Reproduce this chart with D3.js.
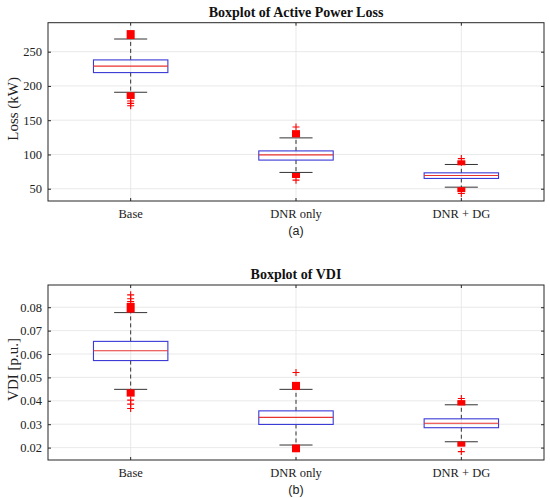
<!DOCTYPE html>
<html>
<head>
<meta charset="utf-8">
<script src="https://cdn.jsdelivr.net/npm/d3@7"></script>
<style>
  body { margin: 0; background: #fff; }
  svg { display: block; }
</style>
</head>
<body>
<svg id="chart"></svg>
<script>
// Categories shared by both panels
const categories = ["Base", "DNR only", "DNR + DG"];

// (a) Active power loss, kW
const lossQ1 = [219.5, 91.8, 65.0];
const lossMedian = [229.0, 99.4, 69.4];
const lossQ3 = [238.0, 105.2, 73.2];
const lossWhiskerLo = [190.8, 73.8, 52.3];
const lossWhiskerHi = [268.5, 124.2, 85.4];
// dense clusters of outliers (drawn as solid blobs), [low, high]
const lossClusterHi = [[268.5, 281.5], [125.0, 135.5], [86.0, 91.5]];
const lossClusterLo = [[181.0, 190.8], [66.0, 73.0], [45.5, 52.3]];
// isolated outliers
const lossOutliers = [[178, 174.5, 171], [140, 62.5], [94, 43]];
const lossLimits = [32.1, 292.3];
const lossTicks = [50, 100, 150, 200, 250];

// (b) Voltage deviation index, p.u.
const vdiQ1 = [0.0572, 0.0299, 0.0285];
const vdiMedian = [0.0614, 0.0329, 0.0304];
const vdiQ3 = [0.0654, 0.0357, 0.0323];
const vdiWhiskerLo = [0.0449, 0.0211, 0.0225];
const vdiWhiskerHi = [0.0777, 0.0449, 0.0383];
const vdiClusterHi = [[0.0777, 0.0818], [0.0446, 0.0481], [0.0380, 0.0403]];
const vdiClusterLo = [[0.0418, 0.0449], [0.0180, 0.0213], [0.0204, 0.0226]];
const vdiOutliers = [[0.0853, 0.0836, 0.0824, 0.0403, 0.0386, 0.0367], [0.0521], [0.0410, 0.0183]];
const vdiLimits = [0.0147, 0.0895];
const vdiTicks = [0.02, 0.03, 0.04, 0.05, 0.06, 0.07, 0.08];

const width = 550, height = 498;
const svg = d3.select("#chart").attr("width", width).attr("height", height);

const serif = "'Liberation Serif', 'Times New Roman', serif";
const sans = "'Liberation Sans', Arial, sans-serif";

function drawPanel(p) {
    const x = d3.scaleBand().domain(categories).range([48, 544]).padding(0);
    const y = d3.scaleLinear().domain(p.limits).range([p.bottom, p.top]);
    const bw = x.bandwidth();
    const cx = c => x(c) + bw / 2;

    const g = svg.append("g");

    // grid lines
    g.selectAll(".hgrid").data(p.ticks).join("line")
        .attr("x1", 48).attr("x2", 544)
        .attr("y1", d => y(d)).attr("y2", d => y(d))
        .attr("stroke", "#e3e3e3").attr("stroke-width", 0.8);
    g.selectAll(".vgrid").data(categories).join("line")
        .attr("x1", cx).attr("x2", cx)
        .attr("y1", p.top).attr("y2", p.bottom)
        .attr("stroke", "#e3e3e3").attr("stroke-width", 0.8);

    const rows = categories.map((c, i) => ({
        c, q1: p.q1[i], med: p.med[i], q3: p.q3[i],
        lo: p.wlo[i], hi: p.whi[i],
        cHi: p.cHi[i], cLo: p.cLo[i], out: p.out[i]
    }));

    // whiskers (dashed)
    g.selectAll(".wup").data(rows).join("line")
        .attr("x1", d => cx(d.c)).attr("x2", d => cx(d.c))
        .attr("y1", d => y(d.q3)).attr("y2", d => y(d.hi))
        .attr("stroke", "#333").attr("stroke-width", 1)
        .attr("stroke-dasharray", "4,3");
    g.selectAll(".wlo").data(rows).join("line")
        .attr("x1", d => cx(d.c)).attr("x2", d => cx(d.c))
        .attr("y1", d => y(d.q1)).attr("y2", d => y(d.lo))
        .attr("stroke", "#333").attr("stroke-width", 1)
        .attr("stroke-dasharray", "4,3");

    // whisker caps
    const capW = bw * 0.2;
    ["hi", "lo"].forEach(k => {
        g.selectAll(".cap-" + k).data(rows).join("line")
            .attr("x1", d => cx(d.c) - capW / 2).attr("x2", d => cx(d.c) + capW / 2)
            .attr("y1", d => y(d[k])).attr("y2", d => y(d[k]))
            .attr("stroke", "#333").attr("stroke-width", 1);
    });

    // boxes
    const boxW = bw * 0.45;
    g.selectAll(".box").data(rows).join("rect")
        .attr("x", d => cx(d.c) - boxW / 2)
        .attr("width", boxW)
        .attr("y", d => y(d.q3))
        .attr("height", d => y(d.q1) - y(d.q3))
        .attr("fill", "none").attr("stroke", "#3a3ad6").attr("stroke-width", 1.1);

    // medians
    g.selectAll(".med").data(rows).join("line")
        .attr("x1", d => cx(d.c) - boxW / 2).attr("x2", d => cx(d.c) + boxW / 2)
        .attr("y1", d => y(d.med)).attr("y2", d => y(d.med))
        .attr("stroke", "#e8322e").attr("stroke-width", 1.1);

    // dense outlier clusters
    const blobW = 8;
    ["cHi", "cLo"].forEach(k => {
        g.selectAll(".blob-" + k).data(rows).join("rect")
            .attr("x", d => cx(d.c) - blobW / 2)
            .attr("width", blobW)
            .attr("y", d => y(d[k][1]))
            .attr("height", d => Math.max(5, y(d[k][0]) - y(d[k][1])))
            .attr("fill", "#f00");
    });

    // isolated outliers ('+')
    const pts = rows.flatMap(d => d.out.map(v => ({ c: d.c, v })));
    const ms = 3.5;
    g.selectAll(".plus").data(pts).join("path")
        .attr("d", d => {
            const px = cx(d.c), py = y(d.v);
            return `M${px - ms},${py}H${px + ms}M${px},${py - ms}V${py + ms}`;
        })
        .attr("stroke", "#f00").attr("stroke-width", 1.1).attr("fill", "none");

    // axes (box on, ticks inside)
    const axisColor = "#262626";
    g.append("g").attr("transform", `translate(48,0)`)
        .call(d3.axisLeft(y).tickValues(p.ticks).tickSizeInner(-3).tickSizeOuter(0).tickPadding(6).tickFormat(p.fmt))
        .call(a => a.select(".domain").remove())
        .call(a => a.selectAll("line").attr("stroke", axisColor))
        .call(a => a.selectAll("text").attr("font-family", serif).attr("font-size", 12.5).attr("fill", "#222"));
    g.append("g").attr("transform", `translate(544,0)`)
        .call(d3.axisRight(y).tickValues(p.ticks).tickSizeInner(-3).tickSizeOuter(0).tickFormat(""))
        .call(a => a.select(".domain").remove())
        .call(a => a.selectAll("line").attr("stroke", axisColor));
    g.append("g").attr("transform", `translate(0,${p.bottom})`)
        .call(d3.axisBottom(x).tickSizeInner(-3).tickSizeOuter(0).tickPadding(8))
        .call(a => a.select(".domain").remove())
        .call(a => a.selectAll("line").attr("stroke", axisColor))
        .call(a => a.selectAll("text").attr("font-family", serif).attr("font-size", 12.5).attr("fill", "#222"));
    g.append("g").attr("transform", `translate(0,${p.top})`)
        .call(d3.axisTop(x).tickSizeInner(-3).tickSizeOuter(0).tickFormat(""))
        .call(a => a.select(".domain").remove())
        .call(a => a.selectAll("line").attr("stroke", axisColor));

    g.append("rect")
        .attr("x", 48).attr("y", p.top)
        .attr("width", 544 - 48).attr("height", p.bottom - p.top)
        .attr("fill", "none").attr("stroke", axisColor).attr("stroke-width", 1);

    // title
    g.append("text")
        .attr("x", 296).attr("y", p.top - 6)
        .attr("text-anchor", "middle")
        .attr("font-family", serif).attr("font-weight", "bold").attr("font-size", 14)
        .attr("fill", "#111")
        .text(p.title);

    // y label
    g.append("text")
        .attr("transform", `translate(18,${(p.top + p.bottom) / 2 - 3}) rotate(-90)`)
        .attr("text-anchor", "middle")
        .attr("font-family", serif).attr("font-size", 15)
        .attr("fill", "#222")
        .text(p.ylabel);

    // sub-caption
    g.append("text")
        .attr("x", 296).attr("y", p.bottom + 34)
        .attr("text-anchor", "middle")
        .attr("font-family", sans).attr("font-size", 12.5)
        .attr("fill", "#222")
        .text(p.caption);
}

drawPanel({
    top: 22.7, bottom: 201,
    limits: lossLimits, ticks: lossTicks, fmt: d3.format("d"),
    q1: lossQ1, med: lossMedian, q3: lossQ3,
    wlo: lossWhiskerLo, whi: lossWhiskerHi,
    cHi: lossClusterHi, cLo: lossClusterLo, out: lossOutliers,
    title: "Boxplot of Active Power Loss", ylabel: "Loss (kW)", caption: "(a)"
});

drawPanel({
    top: 285, bottom: 460,
    limits: vdiLimits, ticks: vdiTicks, fmt: d3.format(".2f"),
    q1: vdiQ1, med: vdiMedian, q3: vdiQ3,
    wlo: vdiWhiskerLo, whi: vdiWhiskerHi,
    cHi: vdiClusterHi, cLo: vdiClusterLo, out: vdiOutliers,
    title: "Boxplot of VDI", ylabel: "VDI [p.u.]", caption: "(b)"
});
</script>
</body>
</html>
